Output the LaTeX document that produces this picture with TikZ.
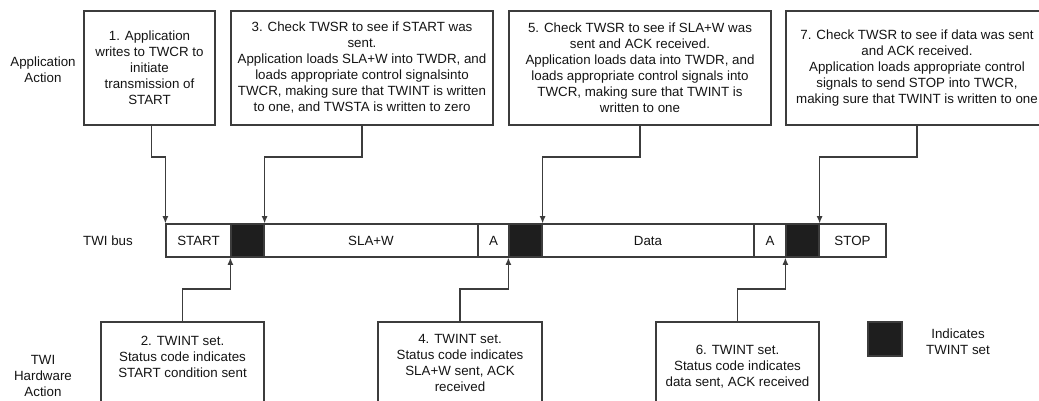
\documentclass[tikz,border=0pt]{standalone}
\usepackage{fontspec}
\setmainfont{Liberation Sans}
\usetikzlibrary{arrows.meta}
\definecolor{ln}{RGB}{60,60,60}
\definecolor{blk}{RGB}{30,30,30}
\definecolor{txt}{RGB}{20,20,20}
\begin{document}
\begin{tikzpicture}[x=0.75pt,y=-0.75pt,
  font=\fontsize{10}{12}\selectfont, text=txt,
  box/.style={draw=ln, line width=0.9pt, inner sep=0pt, align=center},
  seg/.style={draw=ln, line width=0.9pt, inner sep=0pt, minimum height=33*0.75pt},
  tw/.style={seg, fill=blk},
  conn/.style={draw=ln, line width=0.9pt, -{Latex[length=5.5pt,width=4.5pt]}},
  lbl/.style={align=center, inner sep=0pt}]
\useasboundingbox (0,0) rectangle (1039,400);
\clip (0,0) rectangle (1039,400);

% side labels
\node[lbl] (la) at (43,69.5) {Application\\Action};
\node[lbl] (lb) at (108,240.5) {TWI bus};
\node[lbl] (lc) at (43,376) {TWI\\Hardware\\Action};

% bus
\node[seg, minimum width=65*0.75pt]  (s1) at (198.5,240.5) {START};
\node[tw,  minimum width=33*0.75pt]  (k1) at (247.5,240.5) {};
\node[seg, minimum width=214*0.75pt] (s2) at (371,240.5) {SLA+W};
\node[seg, minimum width=31*0.75pt]  (a1) at (493.5,240.5) {A};
\node[tw,  minimum width=33*0.75pt]  (k2) at (525.5,240.5) {};
\node[seg, minimum width=212*0.75pt] (s3) at (648,240.5) {Data};
\node[seg, minimum width=32*0.75pt]  (a2) at (770,240.5) {A};
\node[tw,  minimum width=33*0.75pt]  (k3) at (802.5,240.5) {};
\node[seg, minimum width=67*0.75pt]  (s4) at (852.5,240.5) {STOP};

% application action boxes
\node[box, minimum width=131*0.75pt, minimum height=114*0.75pt] (b1) at (149.5,68)
  {1. Application\\writes to TWCR to\\initiate\\transmission of\\START};
\node[box, minimum width=262*0.75pt, minimum height=114*0.75pt] (b3) at (362,68)
  {3. Check TWSR to see if START was\\sent.\\Application loads SLA+W into TWDR, and\\loads appropriate control signalsinto\\TWCR, making sure that TWINT is written\\to one, and TWSTA is written to zero};
\node[box, minimum width=262*0.75pt, minimum height=114*0.75pt] (b5) at (640,68)
  {5. Check TWSR to see if SLA+W was\\sent and ACK received.\\Application loads data into TWDR, and\\loads appropriate control signals into\\TWCR, making sure that TWINT is\\written to one};
\node[box, minimum width=262*0.75pt, minimum height=114*0.75pt] (b7) at (917,68)
  {7. Check TWSR to see if data was sent\\and ACK received.\\Application loads appropriate control\\signals to send STOP into TWCR,\\making sure that TWINT is written to one};

% hardware action boxes
\node[box, minimum width=163*0.75pt, minimum height=88*0.75pt] (b2) at (182.5,366) {};
\node[box, minimum width=164*0.75pt, minimum height=88*0.75pt] (b4) at (460,366) {};
\node[box, minimum width=163*0.75pt, minimum height=88*0.75pt] (b6) at (737.5,366) {};
\node[lbl] (t2) at (182.5,357) {2. TWINT set.\\Status code indicates\\START condition sent};
\node[lbl] (t4) at (460,363) {4. TWINT set.\\Status code indicates\\SLA+W sent, ACK\\received};
\node[lbl] (t6) at (737.5,367) {6. TWINT set.\\Status code indicates\\data sent, ACK received};

% legend
\node[tw, minimum width=34*0.75pt, minimum height=34*0.75pt] (lg) at (885,339) {};
\node[lbl] (lgt) at (958,342) {Indicates\\TWINT set};

% connectors
\coordinate (ytop) at (0,157);
\coordinate (ybot) at (0,289);
\draw[conn] ([xshift=1.5pt]b1.south) |- (ytop -| s1.north west) -- (s1.north west);
\draw[conn] (b3.south) |- (ytop -| k1.north east) -- (k1.north east);
\draw[conn] (b5.south) |- (ytop -| k2.north east) -- (k2.north east);
\draw[conn] (b7.south) |- (ytop -| k3.north east) -- (k3.north east);
\draw[conn] (b2.north) |- (ybot -| k1.south west) -- (k1.south west);
\draw[conn] (b4.north) |- (ybot -| k2.south west) -- (k2.south west);
\draw[conn] (b6.north) |- (ybot -| k3.south west) -- (k3.south west);
\end{tikzpicture}
\end{document}
